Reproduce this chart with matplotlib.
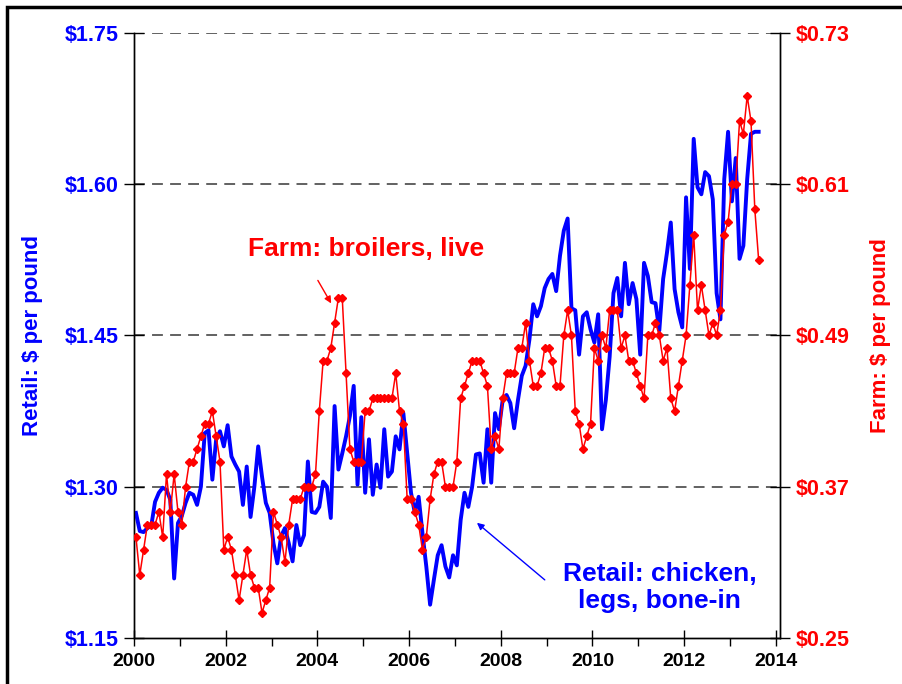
import matplotlib
matplotlib.use('Agg')
import matplotlib.pyplot as plt
from matplotlib.patches import Rectangle
import numpy as np

plt.rcParams['font.family'] = ['Liberation Sans', 'DejaVu Sans']
plt.rcParams['font.weight'] = 'bold'

# monthly series, Jan 2000 - Aug 2013
retail_legs = [1.274, 1.256, 1.255, 1.259, 1.261, 1.285, 1.294, 1.299, 1.297, 1.287, 1.209, 1.264,
               1.271, 1.284, 1.294, 1.292, 1.282, 1.300, 1.353, 1.356, 1.307, 1.347, 1.355, 1.340,
               1.361, 1.330, 1.322, 1.315, 1.282, 1.320, 1.270, 1.300, 1.340, 1.310, 1.284, 1.274,
               1.244, 1.224, 1.251, 1.259, 1.244, 1.226, 1.262, 1.242, 1.252, 1.325, 1.275, 1.274,
               1.280, 1.305, 1.300, 1.269, 1.380, 1.317, 1.333, 1.350, 1.370, 1.400, 1.302, 1.369,
               1.294, 1.347, 1.292, 1.322, 1.299, 1.357, 1.310, 1.315, 1.350, 1.337, 1.373, 1.333,
               1.294, 1.274, 1.290, 1.254, 1.221, 1.183, 1.208, 1.232, 1.242, 1.221, 1.210, 1.232,
               1.222, 1.267, 1.294, 1.280, 1.300, 1.332, 1.333, 1.304, 1.357, 1.304, 1.373, 1.357,
               1.386, 1.391, 1.383, 1.358, 1.386, 1.410, 1.420, 1.446, 1.481, 1.469, 1.479, 1.497,
               1.506, 1.511, 1.494, 1.529, 1.554, 1.566, 1.477, 1.475, 1.431, 1.469, 1.473, 1.456,
               1.443, 1.471, 1.357, 1.386, 1.429, 1.492, 1.507, 1.469, 1.522, 1.481, 1.502, 1.486,
               1.431, 1.522, 1.509, 1.483, 1.482, 1.455, 1.506, 1.532, 1.562, 1.496, 1.473, 1.458,
               1.587, 1.516, 1.645, 1.597, 1.590, 1.612, 1.608, 1.585, 1.492, 1.466, 1.605, 1.652,
               1.583, 1.626, 1.526, 1.539, 1.605, 1.650, 1.652, 1.652]

farm_broilers = [0.33, 0.30, 0.32, 0.34, 0.34, 0.34, 0.35, 0.33, 0.38, 0.35, 0.38, 0.35,
                 0.34, 0.37, 0.39, 0.39, 0.40, 0.41, 0.42, 0.42, 0.43, 0.41, 0.39, 0.32,
                 0.33, 0.32, 0.30, 0.28, 0.30, 0.32, 0.30, 0.29, 0.29, 0.27, 0.28, 0.29,
                 0.35, 0.34, 0.33, 0.31, 0.34, 0.36, 0.36, 0.36, 0.37, 0.37, 0.37, 0.38,
                 0.43, 0.47, 0.47, 0.48, 0.50, 0.52, 0.52, 0.46, 0.40, 0.39, 0.39, 0.39,
                 0.43, 0.43, 0.44, 0.44, 0.44, 0.44, 0.44, 0.44, 0.46, 0.43, 0.42, 0.36,
                 0.36, 0.35, 0.34, 0.32, 0.33, 0.36, 0.38, 0.39, 0.39, 0.37, 0.37, 0.37,
                 0.39, 0.44, 0.45, 0.46, 0.47, 0.47, 0.47, 0.46, 0.45, 0.40, 0.41, 0.40,
                 0.44, 0.46, 0.46, 0.46, 0.48, 0.48, 0.50, 0.47, 0.45, 0.45, 0.46, 0.48,
                 0.48, 0.47, 0.45, 0.45, 0.49, 0.51, 0.49, 0.43, 0.42, 0.40, 0.41, 0.42,
                 0.48, 0.47, 0.49, 0.48, 0.51, 0.51, 0.51, 0.48, 0.49, 0.47, 0.47, 0.46,
                 0.45, 0.44, 0.49, 0.49, 0.50, 0.49, 0.47, 0.48, 0.44, 0.43, 0.45, 0.47,
                 0.49, 0.53, 0.57, 0.51, 0.53, 0.51, 0.49, 0.50, 0.49, 0.51, 0.57, 0.58,
                 0.61, 0.61, 0.66, 0.65, 0.68, 0.66, 0.59, 0.55]

months = 2000 + (np.arange(len(retail_legs)) + 0.5) / 12

left_ticks = [1.15, 1.30, 1.45, 1.60, 1.75]
right_ticks = [0.25, 0.37, 0.49, 0.61, 0.73]
year_ticks = [2000, 2002, 2004, 2006, 2008, 2010, 2012, 2014]

fig = plt.figure(figsize=(9.02, 6.84), dpi=100)
ax = fig.add_axes([0.1486, 0.0673, 0.7161, 0.8845])
ax2 = ax.twinx()

# dashed grid at the left ticks
for v in left_ticks[1:]:
    ax.axhline(v, color='#555555', lw=1.3, ls=(0, (6, 4)), zorder=1)

ax.plot(months, retail_legs, color='#0000FF', lw=2.8, zorder=3)
ax2.plot(months, farm_broilers, color='#FF0000', lw=1.1, marker='D', ms=4, zorder=3)

ax.set_xlim(2000, 2014.09)
ax.set_ylim(1.15, 1.75)
ax2.set_ylim(0.25, 0.73)

ax.set_yticks(left_ticks)
ax.set_yticklabels(['$%.2f' % v for v in left_ticks])
ax2.set_yticks(right_ticks)
ax2.set_yticklabels(['$%.2f' % v for v in right_ticks])
ax.set_xticks(year_ticks)
ax.set_xticks(range(2001, 2014, 2), minor=True)

ax.tick_params(axis='y', direction='inout', length=14, width=1, labelsize=15.5,
               labelcolor='#0000FF', pad=4)
ax2.tick_params(axis='y', direction='inout', length=14, width=1, labelsize=15.5,
                labelcolor='#FF0000', pad=4)
ax.tick_params(axis='x', which='major', direction='inout', length=12, width=1,
               labelsize=14, pad=5)
ax.tick_params(axis='x', which='minor', direction='out', length=6, width=1)
for lab in ax.get_yticklabels() + ax2.get_yticklabels() + ax.get_xticklabels():
    lab.set_fontweight('bold')

for a in (ax, ax2):
    a.spines['top'].set_visible(False)
    for s in ('left', 'right', 'bottom'):
        a.spines[s].set_linewidth(1.0)

fig.text(0.036, 0.51, 'Retail: $ per pound', rotation=90, color='#0000FF',
         fontsize=16, fontweight='bold', ha='center', va='center')
fig.text(0.976, 0.51, 'Farm: $ per pound', rotation=90, color='#FF0000',
         fontsize=16, fontweight='bold', ha='center', va='center')

ax.text(2005.06, 1.5354, 'Farm: broilers, live', color='#FF0000', fontsize=19,
        fontweight='bold', ha='center', va='center')
ax.text(2011.47, 1.1997, 'Retail: chicken,\nlegs, bone-in', color='#0000FF', fontsize=19,
        fontweight='bold', ha='center', va='center', linespacing=1.15)

ax.annotate('', xy=(2004.30, 1.4818), xytext=(2004.01, 1.5046),
            arrowprops=dict(arrowstyle='-|>', color='#FF0000', lw=1.0,
                            mutation_scale=10, shrinkA=0, shrinkB=0))
ax.annotate('', xy=(2007.48, 1.2642), xytext=(2008.96, 1.2076),
            arrowprops=dict(arrowstyle='-|>', color='#0000FF', lw=1.0,
                            mutation_scale=10, shrinkA=0, shrinkB=0))

# outer frame
fig.patches.append(Rectangle((0.008, -0.1), 1.2, 1.0898, transform=fig.transFigure,
                             fill=False, edgecolor='black', lw=2.5))

fig.savefig('out.png', dpi=100)
